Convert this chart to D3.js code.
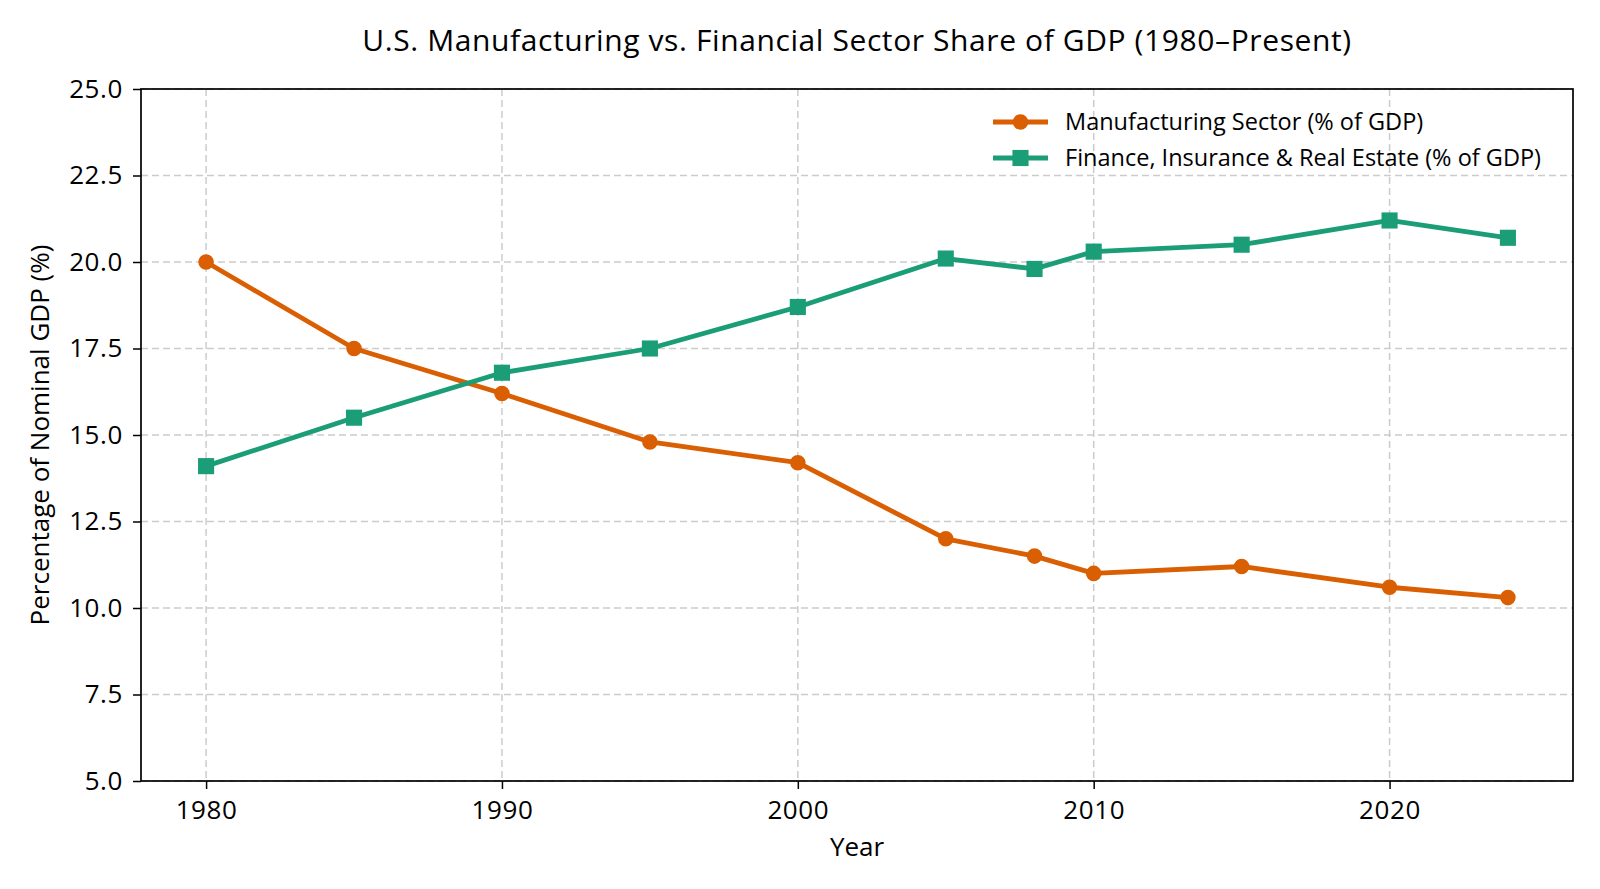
<!DOCTYPE html>
<html>
<head>
<meta charset="utf-8">
<script src="https://cdn.jsdelivr.net/npm/d3@7"></script>
<style>
  html, body { margin: 0; padding: 0; background: #fff; overflow: hidden; }
  svg { display: block; }
  svg text { font-family: "Open Sans", sans-serif; fill: #000; }
</style>
</head>
<body>
<svg id="chart" width="1600" height="889"></svg>
<script>
// data
var years = [1980, 1985, 1990, 1995, 2000, 2005, 2008, 2010, 2015, 2020, 2024];
var manufacturing = [20.0, 17.5, 16.2, 14.8, 14.2, 12.0, 11.5, 11.0, 11.2, 10.6, 10.3];
var finance = [14.1, 15.5, 16.8, 17.5, 18.7, 20.1, 19.8, 20.3, 20.5, 21.2, 20.7];
var yTicks = [5.0, 7.5, 10.0, 12.5, 15.0, 17.5, 20.0, 22.5, 25.0];
var xTicks = [1980, 1990, 2000, 2010, 2020];
var seriesNames = ["Manufacturing Sector (% of GDP)", "Finance, Insurance & Real Estate (% of GDP)"];

var svg = d3.select("#chart");
var m = {left: 141, right: 1573, top: 89, bottom: 781};

var x = d3.scaleLinear().domain([1977.8, 2026.2]).range([m.left, m.right]);
var y = d3.scaleLinear().domain([5, 25]).range([m.bottom, m.top]);

// grid
svg.append('g').selectAll('line.gx')
	.data(xTicks).enter().append('line')
	.attr('x1', function(d){ return x(d); }).attr('x2', function(d){ return x(d); })
	.attr('y1', m.top).attr('y2', m.bottom)
	.attr('stroke', '#cccccc').attr('stroke-width', 1.5).attr('stroke-dasharray', '7,4');
svg.append('g').selectAll('line.gy')
	.data(yTicks).enter().append('line')
	.attr('y1', function(d){ return y(d); }).attr('y2', function(d){ return y(d); })
	.attr('x1', m.left).attr('x2', m.right)
	.attr('stroke', '#cccccc').attr('stroke-width', 1.5).attr('stroke-dasharray', '7,4');

// axes
var xAxis = svg.append('g').attr('transform', 'translate(0,' + m.bottom + ')')
	.call(d3.axisBottom(x).tickValues(xTicks).tickFormat(d3.format('d')).tickSize(8).tickPadding(12));
var yAxis = svg.append('g').attr('transform', 'translate(' + m.left + ',0)')
	.call(d3.axisLeft(y).tickValues(yTicks).tickFormat(d3.format('.1f')).tickSize(8).tickPadding(10));
[xAxis, yAxis].forEach(function(a){
	a.select('.domain').remove();
	a.selectAll('line').attr('stroke', '#000').attr('stroke-width', 1.5);
	a.selectAll('text').attr('font-size', 26).attr('letter-spacing', 0.6)
		.style('font-family', '"Open Sans", sans-serif');
});

// frame
svg.append('rect')
	.attr('x', m.left).attr('y', m.top)
	.attr('width', m.right - m.left).attr('height', m.bottom - m.top)
	.attr('fill', 'none').attr('stroke', '#000').attr('stroke-width', 1.7);

var line = d3.line().x(function(d){ return x(d[0]); }).y(function(d){ return y(d[1]); });

var series = [
	{name: seriesNames[0], color: '#d95f02', shape: 'circle', values: d3.zip(years, manufacturing)},
	{name: seriesNames[1], color: '#1b9e77', shape: 'square', values: d3.zip(years, finance)}
];

function marker(s) {
	return d3.symbol().type(s.shape == 'circle' ? d3.symbolCircle : d3.symbolSquare)
		.size(s.shape == 'circle' ? 190 : 260);
}

series.forEach(function(s){
	svg.append('path').datum(s.values)
		.attr('d', line).attr('fill', 'none')
		.attr('stroke', s.color).attr('stroke-width', 4.8).attr('stroke-linejoin', 'round');
	svg.append('g').selectAll('path')
		.data(s.values).enter().append('path')
		.attr('d', marker(s))
		.attr('transform', function(d){ return 'translate(' + x(d[0]) + ',' + y(d[1]) + ')'; })
		.attr('fill', s.color);
});

// legend
var legend = svg.append('g').selectAll('g')
	.data(series).enter().append('g')
	.attr('transform', function(d, i){ return 'translate(993,' + (122 + i * 36) + ')'; });
legend.append('line').attr('x1', 0).attr('x2', 55)
	.attr('stroke', function(d){ return d.color; }).attr('stroke-width', 4.8);
legend.append('path')
	.attr('d', function(d){ return marker(d)(); })
	.attr('transform', 'translate(27.5,0)')
	.attr('fill', function(d){ return d.color; });
legend.append('text').attr('x', 72).attr('dy', '0.36em')
	.attr('font-size', 23.5)
	.text(function(d){ return d.name; });

// titles
svg.append('text').attr('x', (m.left + m.right) / 2).attr('y', 51)
	.attr('text-anchor', 'middle').attr('font-size', 30).attr('letter-spacing', 0.6)
	.text('U.S. Manufacturing vs. Financial Sector Share of GDP (1980–Present)');
svg.append('text').attr('x', (m.left + m.right) / 2).attr('y', 856)
	.attr('text-anchor', 'middle').attr('font-size', 26)
	.text('Year');
svg.append('text')
	.attr('transform', 'translate(49,' + ((m.top + m.bottom) / 2) + ') rotate(-90)')
	.attr('text-anchor', 'middle').attr('font-size', 26)
	.text('Percentage of Nominal GDP (%)');
</script>
</body>
</html>
